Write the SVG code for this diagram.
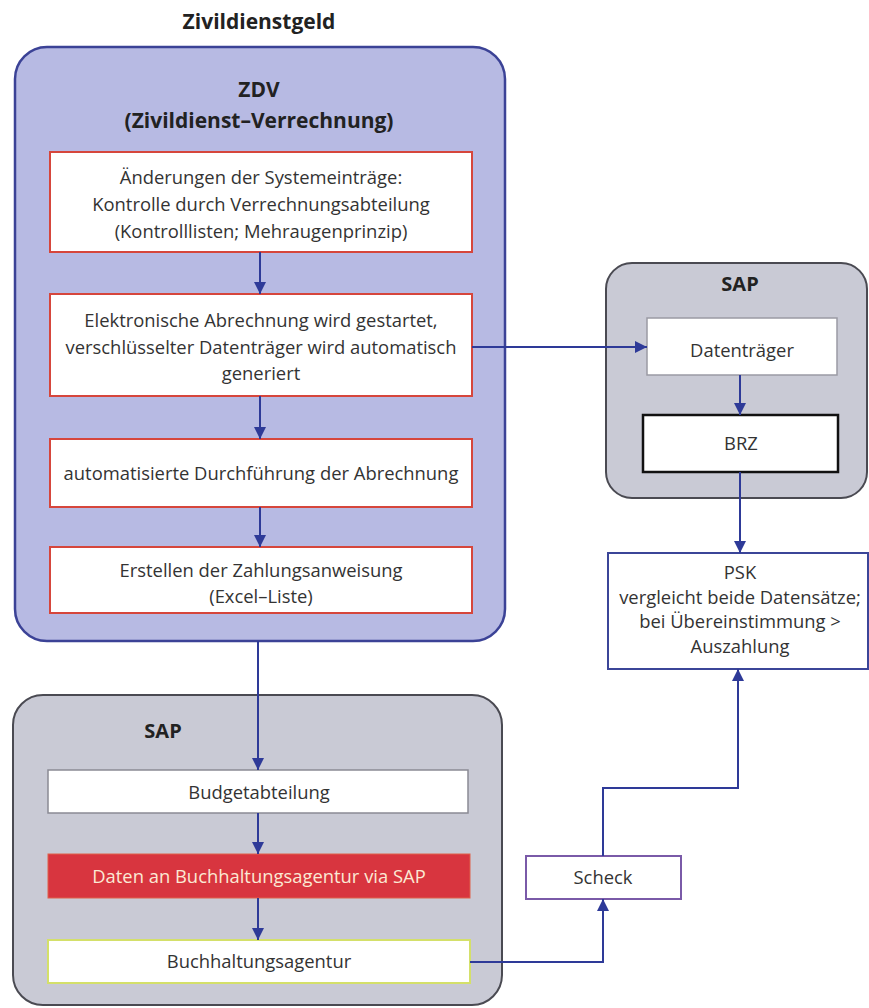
<svg xmlns="http://www.w3.org/2000/svg" width="869" height="1008" viewBox="0 0 869 1008">
<defs>
<marker id="ah" viewBox="0 0 10 10" refX="10" refY="5" markerWidth="7" markerHeight="6" markerUnits="strokeWidth" orient="auto">
<path d="M0,0 L10,5 L0,10 Z" fill="#2e3a98"/>
</marker>
<style>
text{font-family:"Open Sans","DejaVu Sans",sans-serif;fill:#333;text-anchor:middle;}
.t{font-size:18.4px;}
.b{font-weight:bold;fill:#222;}
.zdv{fill:#b7bae3;stroke:#3b4296;stroke-width:2.5;}
.sap{fill:#c9cad5;stroke:#4a4a52;stroke-width:2;}
.red{fill:#fff;stroke:#d6463c;stroke-width:2;}
.con{fill:none;stroke:#2e3a98;stroke-width:2;}
</style>
</defs>
<rect width="869" height="1008" fill="#fff"/>
<text x="259" y="29" class="b" style="font-size:21px">Zivildienstgeld</text>

<g id="zdv">
<rect x="15" y="47" width="490" height="594" rx="32" class="zdv"/>
<text x="259" y="97" class="b" style="font-size:21px">ZDV</text>
<text x="259" y="128" class="b" style="font-size:21px">(Zivildienst–Verrechnung)</text>
</g>
<g id="box1">
<rect x="50" y="152" width="422" height="100" class="red"/>
<text x="261" y="184" class="t">Änderungen der Systemeinträge:</text>
<text x="261" y="211" class="t">Kontrolle durch Verrechnungsabteilung</text>
<text x="261" y="238" class="t">(Kontrolllisten; Mehraugenprinzip)</text>
</g>
<g id="box2">
<rect x="50" y="294" width="422" height="102" class="red"/>
<text x="261" y="327" class="t">Elektronische Abrechnung wird gestartet,</text>
<text x="261" y="354" class="t">verschlüsselter Datenträger wird automatisch</text>
<text x="261" y="380" class="t">generiert</text>
</g>
<g id="box3">
<rect x="50" y="439" width="422" height="68" class="red"/>
<text x="261" y="480" class="t">automatisierte Durchführung der Abrechnung</text>
</g>
<g id="box4">
<rect x="50" y="547" width="422" height="66" class="red"/>
<text x="261" y="577" class="t">Erstellen der Zahlungsanweisung</text>
<text x="261" y="603" class="t">(Excel–Liste)</text>
</g>

<g id="sap-right">
<rect x="606" y="263" width="261" height="235" rx="26" class="sap"/>
<text x="740" y="291" class="b" style="font-size:20px">SAP</text>
</g>
<g id="datentraeger">
<rect x="647" y="318" width="190" height="57" fill="#fff" stroke="#9a9aa4" stroke-width="1.5"/>
<text x="742" y="357" class="t">Datenträger</text>
</g>
<g id="brz">
<rect x="643" y="415" width="195" height="57" fill="#fff" stroke="#111" stroke-width="2.5"/>
<text x="741" y="450" class="t">BRZ</text>
</g>
<g id="psk">
<rect x="608" y="553" width="260" height="116" fill="#fff" stroke="#3b4598" stroke-width="2"/>
<text x="740" y="579" class="t">PSK</text>
<text x="740" y="604" class="t">vergleicht beide Datensätze;</text>
<text x="740" y="628" class="t">bei Übereinstimmung &gt;</text>
<text x="740" y="653" class="t">Auszahlung</text>
</g>

<g id="sap-bottom">
<rect x="13" y="695" width="489" height="310" rx="30" class="sap"/>
<text x="163" y="738" class="b" style="font-size:20px">SAP</text>
</g>
<g id="budget">
<rect x="48" y="770" width="420" height="43" fill="#fff" stroke="#8a8a94" stroke-width="1.5"/>
<text x="259" y="799" class="t">Budgetabteilung</text>
</g>
<g id="daten-sap">
<rect x="48" y="854" width="422" height="44" fill="#d8353f" stroke="#e0604a" stroke-width="1"/>
<text x="259" y="883" class="t" style="fill:#fbe9d4">Daten an Buchhaltungsagentur via SAP</text>
</g>
<g id="buchhaltung">
<rect x="48" y="940" width="422" height="43" fill="#fff" stroke="#d4e06a" stroke-width="2"/>
<text x="259" y="968" class="t">Buchhaltungsagentur</text>
</g>
<g id="scheck">
<rect x="526" y="856" width="155" height="43" fill="#fff" stroke="#7a5aa8" stroke-width="2"/>
<text x="603" y="884" class="t">Scheck</text>
</g>

<g id="connectors">
<path d="M260,252 V294" class="con" marker-end="url(#ah)"/>
<path d="M260,396 V439" class="con" marker-end="url(#ah)"/>
<path d="M260,507 V547" class="con" marker-end="url(#ah)"/>
<path d="M258,641 V770" class="con" marker-end="url(#ah)"/>
<path d="M258,813 V854" class="con" marker-end="url(#ah)"/>
<path d="M258,898 V940" class="con" marker-end="url(#ah)"/>
<path d="M472,347 H647" class="con" marker-end="url(#ah)"/>
<path d="M740,375 V415" class="con" marker-end="url(#ah)"/>
<path d="M740,472 V553" class="con" marker-end="url(#ah)"/>
<path d="M470,962 H603 V899" class="con" marker-end="url(#ah)"/>
<path d="M603,856 V788 H738 V669" class="con" marker-end="url(#ah)"/>
</g>
</svg>
